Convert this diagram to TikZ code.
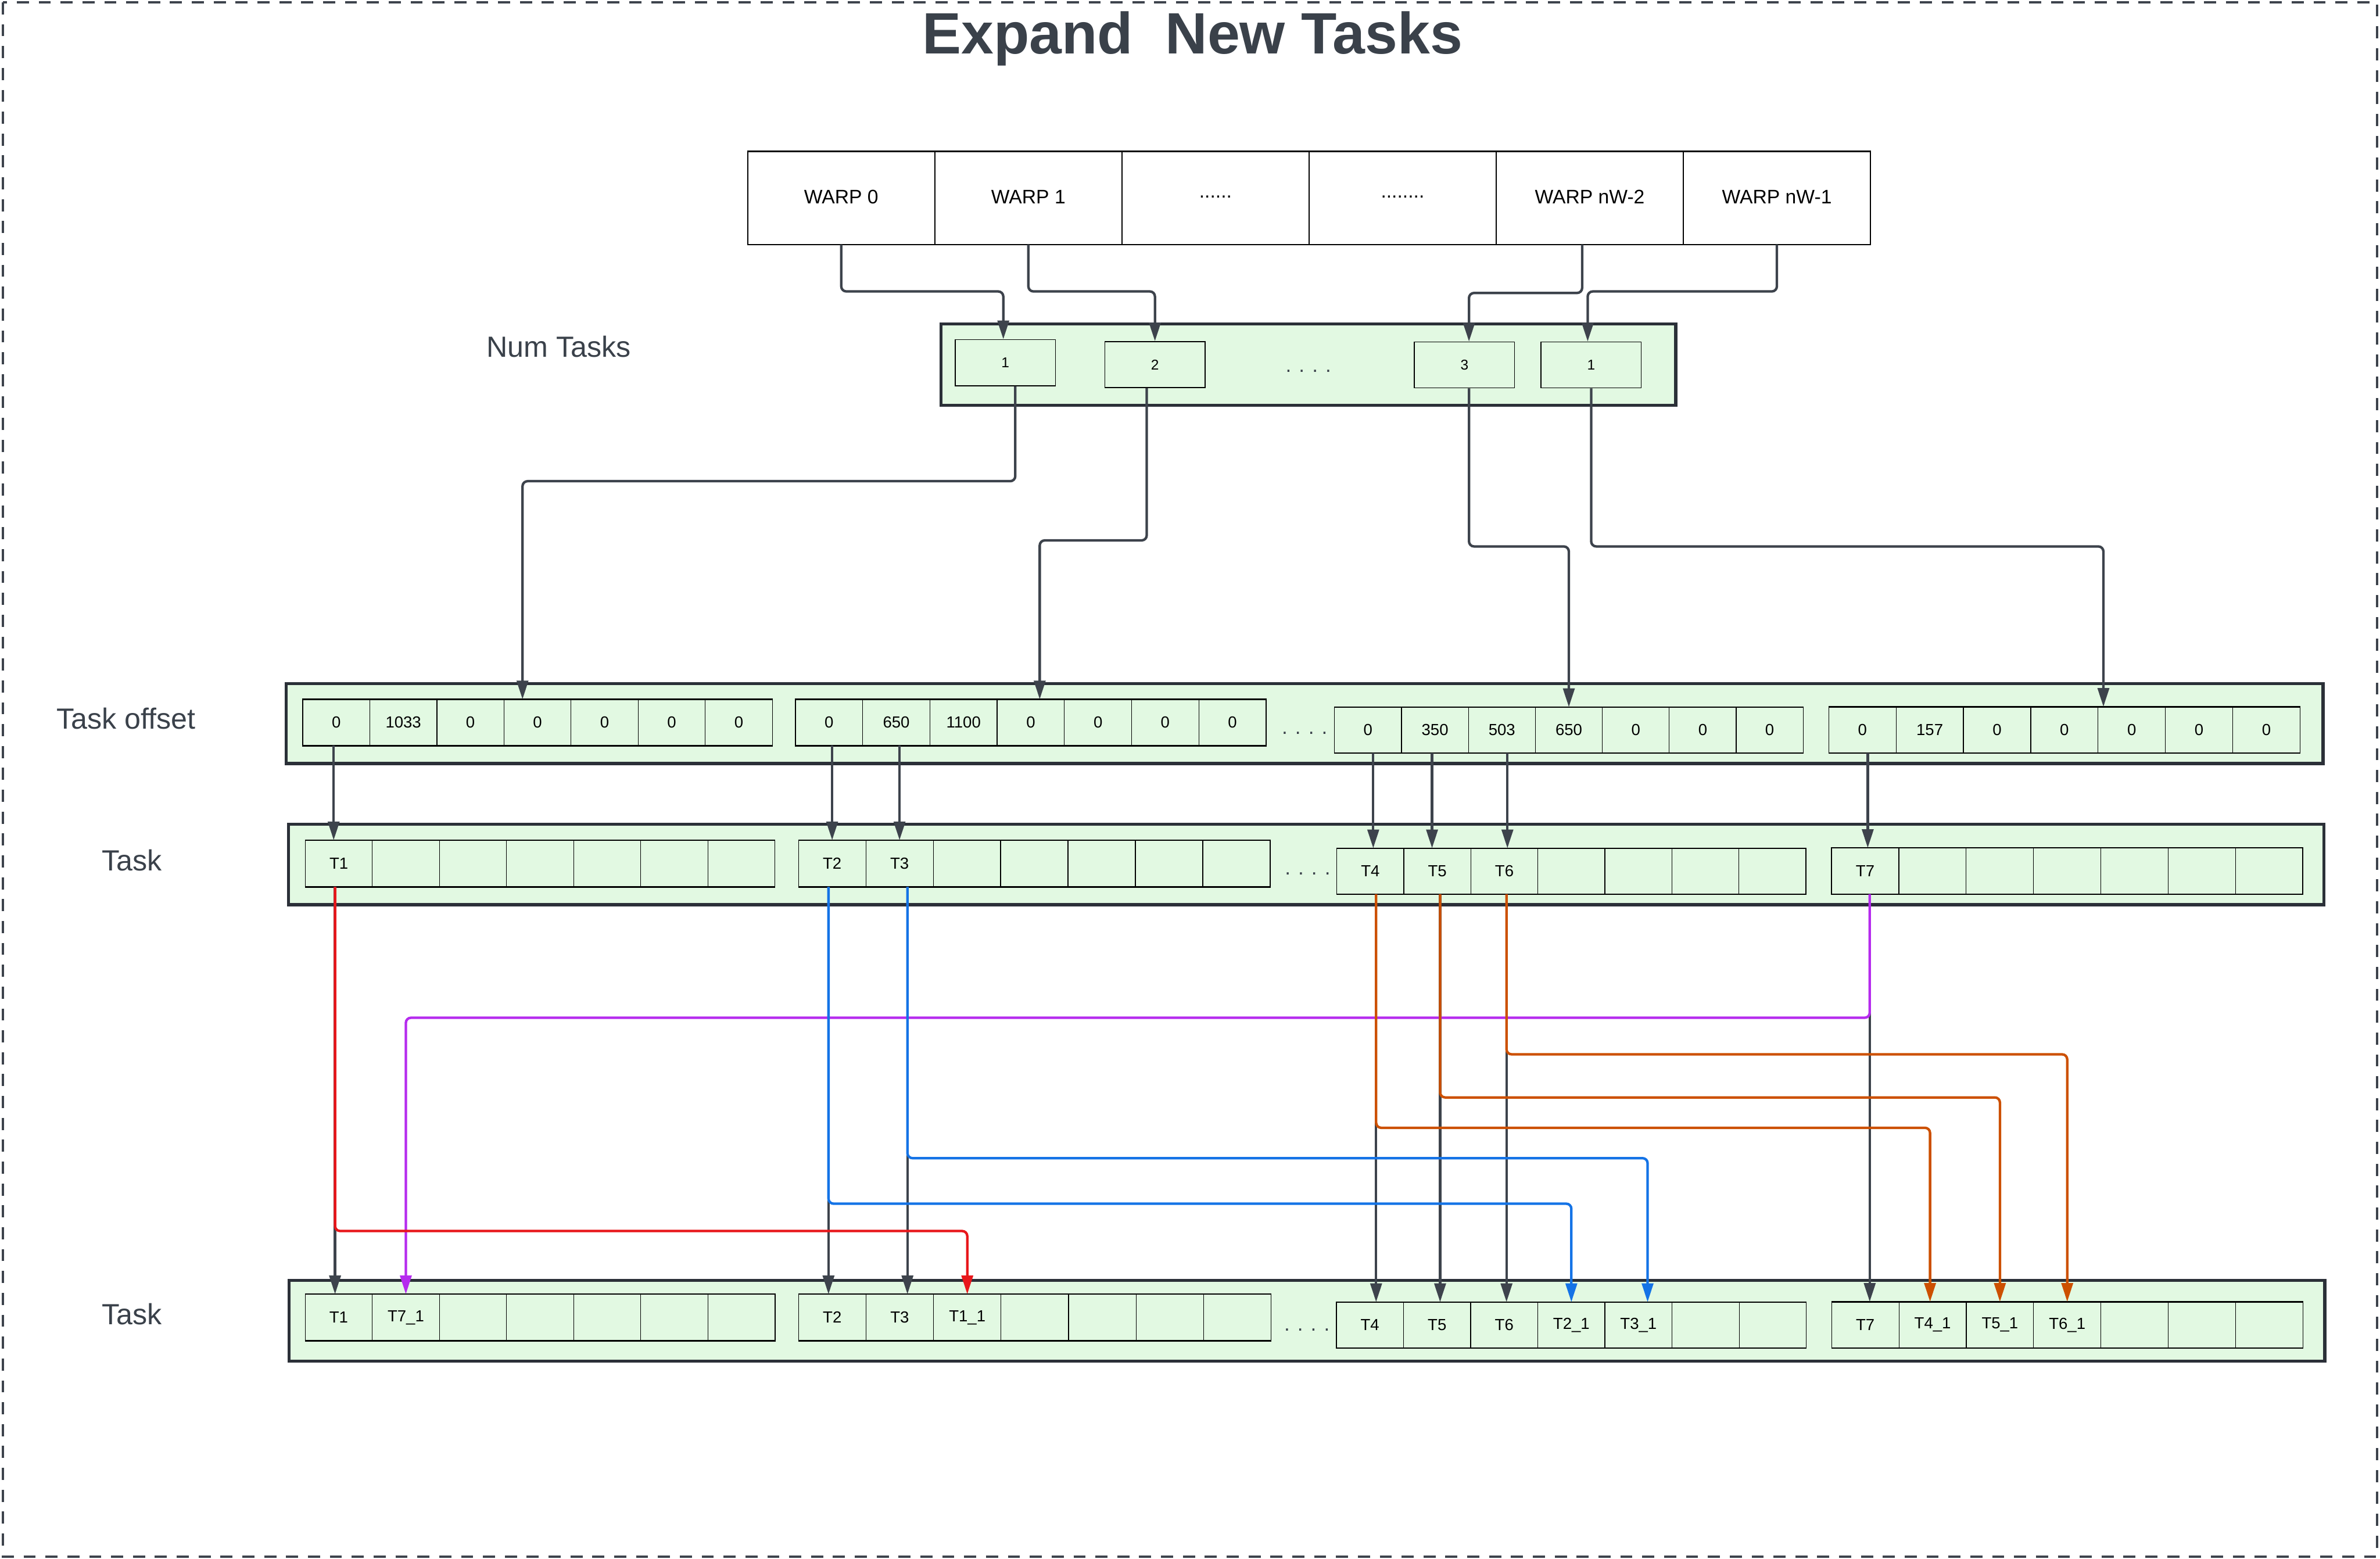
\documentclass[tikz,border=0pt]{standalone}
\usepackage{fontspec}
\setmainfont{Liberation Sans}
\usetikzlibrary{arrows.meta}
\definecolor{cellgreen}{HTML}{E2F9E2}
\definecolor{framegray}{HTML}{2B3038}
\definecolor{conngray}{HTML}{3D434C}
\definecolor{labtxt}{HTML}{3A414A}
\definecolor{cred}{HTML}{E8171B}
\definecolor{cblue}{HTML}{1473E6}
\definecolor{corange}{HTML}{CC5000}
\definecolor{cpurple}{HTML}{B52BEE}
\def\u{0.03cm}
\newcommand\cellgroup[6]{%
  \foreach \lab [count=\i] in {#6} {%
    \node[cellbox, minimum width=#4*\u, minimum height=#5*\u] (#1-\i) at ({#2+(\i-1)*#4}, #3) {\lab};
  }
  \draw[grpedge] (#1-1.north west) -- (#1-7.north east);
  \draw[grpedge] (#1-1.south west) -- (#1-7.south east);
}
\begin{document}
\begin{tikzpicture}[x=0.03cm, y=-0.03cm,
  cellbox/.style={draw=black, line width=0.4pt, fill=cellgreen, inner sep=0pt, anchor=north west, font=\fontsize{9}{10}\selectfont, text=black},
  warpbox/.style={draw=black, line width=0.5pt, fill=white, inner sep=0pt, anchor=north west, minimum width=123.28*\u, minimum height=60.8*\u, font=\fontsize{11}{13}\selectfont, text=black},
  numbox/.style={draw=black, line width=0.5pt, fill=cellgreen, inner sep=0pt, anchor=north west, minimum width=66*\u, minimum height=30.3*\u, font=\fontsize{8}{10}\selectfont, text=black},
  grpedge/.style={draw=black, line width=0.8pt},
  container/.style={draw=framegray, line width=1.7pt, fill=cellgreen},
  lab/.style={font=\fontsize{16.4}{19}\selectfont, text=labtxt, inner sep=0pt},
  dots/.style={font=\fontsize{11.5}{13}\selectfont, text=labtxt, inner sep=0pt, anchor=base},
  link/.style={draw=conngray, line width=1.4pt, rounded corners=0.1cm, -{Triangle[length=10.5pt, width=6.4pt]}},
  outer/.style={draw=conngray, line width=1.3pt, dash pattern=on 6.8pt off 5.5pt}
]
\useasboundingbox (0,0) rectangle (1568,1027);
\draw[outer] (2,1.5) rectangle (1566,1025.5);

% title
\node[font=\fontsize{32.8}{36}\selectfont\bfseries, text=labtxt, anchor=base, inner sep=0pt] (title) at (785.6,35.4) {Expand\ \ New Tasks};

% labels
\node[lab, anchor=base] (lnum) at (368,235.3) {Num Tasks};
\node[lab, anchor=base west] (loff) at (37,480.1) {Task offset};
\node[lab, anchor=base] (ltask1) at (87,573.5) {Task};
\node[lab, anchor=base] (ltask2) at (87,872.5) {Task};

% warps
\node[warpbox] (w1) at (492.3, 99.8) {\raisebox{1.5pt}{WARP 0}};
\node[warpbox] (w2) at (615.58, 99.8) {\raisebox{1.5pt}{WARP 1}};
\node[warpbox] (w3) at (738.86, 99.8) {\raisebox{1.5pt}{......}};
\node[warpbox] (w4) at (862.14, 99.8) {\raisebox{1.5pt}{........}};
\node[warpbox] (w5) at (985.42, 99.8) {\raisebox{1.5pt}{WARP nW-2}};
\node[warpbox] (w6) at (1108.7, 99.8) {\raisebox{1.5pt}{WARP nW-1}};
\draw[grpedge] (w1.north west) -- (w6.north east);
\draw[grpedge] (w1.south west) -- (w6.south east);

% containers
\draw[container] (620,213.5) rectangle (1104,267);
\draw[container] (188.4,450.3) rectangle (1530.5,503);
\draw[container] (190,543) rectangle (1531,596);
\draw[container] (190.4,843.4) rectangle (1531.6,896.8);

% num tasks
\node[numbox] (n1) at (629,223.5) {1};
\node[numbox] (n2) at (727.6,224.8) {2};
\node[numbox] (n3) at (931.5,225) {3};
\node[numbox] (n4) at (1015,225) {1};
\node[dots] (d0) at (862,245) {. . . .};

% task offset
\cellgroup{o1}{199.2}{460.7}{44.2}{30.1}{0,1033,0,0,0,0,0}
\cellgroup{o2}{523.8}{460.7}{44.3}{30.1}{0,650,1100,0,0,0,0}
\cellgroup{o3}{879}{465.8}{44.1}{29.8}{0,350,503,650,0,0,0}
\cellgroup{o4}{1204.6}{465.6}{44.35}{30}{0,157,0,0,0,0,0}
\node[dots] (d1) at (859.5,483.5) {. . . .};

% task
\cellgroup{t1}{200.9}{553.5}{44.2}{30.3}{T1,{},{},{},{},{},{}}
\cellgroup{t2}{525.8}{553.5}{44.4}{30.3}{T2,T3,{},{},{},{},{}}
\cellgroup{t3}{880.5}{558.8}{44.15}{29.8}{T4,T5,T6,{},{},{},{}}
\cellgroup{t4}{1206.4}{558.6}{44.35}{30}{T7,{},{},{},{},{},{}}
\node[dots] (d2) at (861.5,576.5) {. . . .};

% task (expanded)
\cellgroup{b1}{200.8}{852.6}{44.23}{30.2}{T1,T7\_1,{},{},{},{},{}}
\cellgroup{b2}{525.8}{852.6}{44.49}{30.2}{T2,T3,T1\_1,{},{},{},{}}
\cellgroup{b3}{880.2}{857.8}{44.23}{29.9}{T4,T5,T6,T2\_1,T3\_1,{},{}}
\cellgroup{b4}{1206.5}{857.6}{44.34}{30.1}{T7,T4\_1,T5\_1,T6\_1,{},{},{}}
\node[dots] (d3) at (861,877) {. . . .};

% warp -> num tasks
\coordinate (lvWa) at (0,192);
\coordinate (lvWb) at (0,193);
\coordinate (e5) at ([xshift=-5*\u]w5.south);
\draw[link] (w1.south) -- (w1.south |- lvWa) -| ([xshift=-1.3*\u]n1.north);
\draw[link] (w2.south) -- (w2.south |- lvWa) -| (n2.north);
\draw[link] (e5) -- (e5 |- lvWb) -| ([xshift=3*\u]n3.north);
\draw[link] (w6.south) -- (w6.south |- lvWa) -| ([xshift=-2.3*\u]n4.north);

% num tasks -> task offset
\coordinate (lvM1) at (0,317);
\coordinate (lvM2) at (0,356);
\coordinate (lvM3) at (0,360);
\coordinate (m1) at ([xshift=6.6*\u]n1.south);
\coordinate (m2) at ([xshift=-5.4*\u]n2.south);
\coordinate (m3) at ([xshift=3*\u]n3.south);
\draw[link] (m1) -- (m1 |- lvM1) -| ([xshift=-9.9*\u]o1-4.north);
\draw[link] (m2) -- (m2 |- lvM2) -| ([xshift=5.9*\u]o2-4.north);
\draw[link] (m3) -- (m3 |- lvM3) -| (o3-4.north);
\draw[link] (n4.south) -- (n4.south |- lvM3) -| ([xshift=3.3*\u]o4-4.north east);

% task offset -> task
\coordinate (a1) at ([xshift=-3.4*\u]t1-1.north);
\coordinate (a5) at ([xshift=-3.5*\u]t3-2.north);
\coordinate (a4) at ([xshift=1.9*\u]t3-1.north);
\coordinate (a6) at ([xshift=2*\u]t3-3.north);
\coordinate (a7) at ([xshift=1.7*\u]t4-1.north);
\draw[link] (a1 |- o1-1.south) -- (a1);
\draw[link] (t2-1.north |- o2-1.south) -- (t2-1.north);
\draw[link] (t2-2.north |- o2-2.south) -- (t2-2.north);
\draw[link] (a4 |- o3-1.south) -- (a4);
\draw[link] (a5 |- o3-2.south) -- (a5);
\draw[link] (a6 |- o3-3.south) -- (a6);
\draw[link] (a7 |- o4-1.south) -- (a7);

% task -> expanded task (straight copies)
\coordinate (x1) at ([xshift=-2.5*\u]t1-1.south);
\coordinate (x2) at ([xshift=-2.4*\u]t2-1.south);
\coordinate (x3) at ([xshift=5.2*\u]t2-2.south);
\coordinate (x4) at ([xshift=3.8*\u]t3-1.south);
\coordinate (x5) at ([xshift=1.8*\u]t3-2.south);
\coordinate (x6) at ([xshift=1.4*\u]t3-3.south);
\coordinate (x7) at ([xshift=3*\u]t4-1.south);
\draw[link] (x1) -- (x1 |- b1-1.north);
\draw[link] (x2) -- (x2 |- b2-1.north);
\draw[link] (x3) -- (x3 |- b2-2.north);
\draw[link] (x4) -- (x4 |- b3-1.north);
\draw[link] (x5) -- (x5 |- b3-2.north);
\draw[link] (x6) -- (x6 |- b3-3.north);
\draw[link] (x7) -- (x7 |- b4-1.north);

% new tasks
\coordinate (lvR) at (0,811);
\coordinate (lvB2) at (0,793);
\coordinate (lvB3) at (0,763);
\coordinate (lvO4) at (0,743);
\coordinate (lvO5) at (0,723);
\coordinate (lvO6) at (0,694.6);
\coordinate (lvP) at (0,670.5);
\draw[link, draw=cpurple] (x7) -- (x7 |- lvP) -| (b1-2.north);
\draw[link, draw=corange] (x6) -- (x6 |- lvO6) -| (b4-4.north);
\draw[link, draw=corange] (x5) -- (x5 |- lvO5) -| (b4-3.north);
\draw[link, draw=corange] (x4) -- (x4 |- lvO4) -| ([xshift=-1.7*\u]b4-2.north);
\draw[link, draw=cblue] (x3) -- (x3 |- lvB3) -| ([xshift=6*\u]b3-5.north);
\draw[link, draw=cblue] (x2) -- (x2 |- lvB2) -| (b3-4.north);
\draw[link, draw=cred] (x1) -- (x1 |- lvR) -| (b2-3.north);
\end{tikzpicture}
\end{document}
